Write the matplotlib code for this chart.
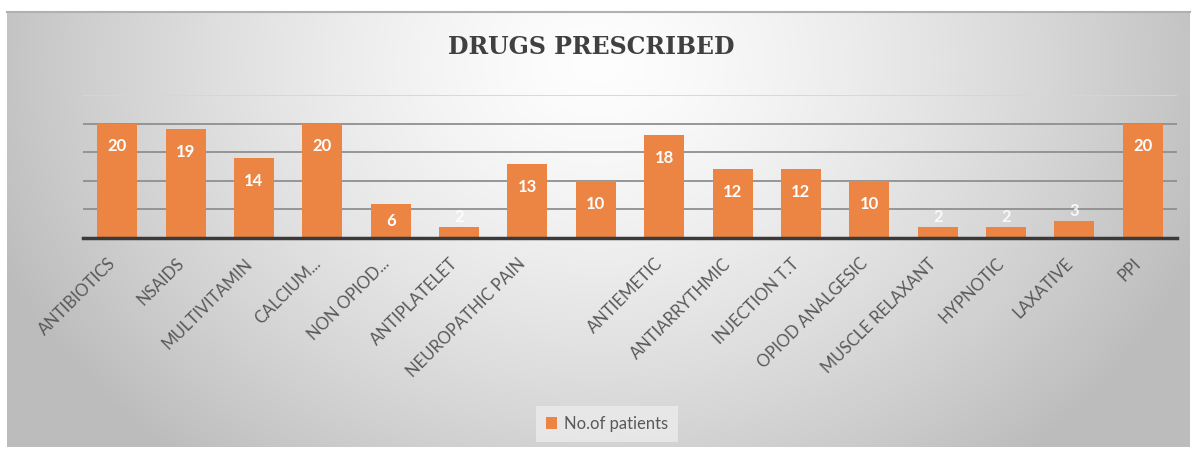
import numpy as np
import matplotlib
matplotlib.use('Agg')
import matplotlib.pyplot as plt
import matplotlib.transforms as mtransforms

# Dados do grafico
categorias = ['ANTIBIOTICS', 'NSAIDS', 'MULTIVITAMIN', 'CALCIUM...', 'NON OPIOD...',
              'ANTIPLATELET', 'NEUROPATHIC PAIN', '', 'ANTIEMETIC', 'ANTIARRYTHMIC',
              'INJECTION T.T', 'OPIOD ANALGESIC', 'MUSCLE RELAXANT', 'HYPNOTIC',
              'LAXATIVE', 'PPI']
pacientes = [20, 19, 14, 20, 6, 2, 13, 10, 18, 12, 12, 10, 2, 2, 3, 20]
serie = 'No.of patients'
titulo = 'DRUGS PRESCRIBED'

plt.rcParams['font.family'] = ['Lato', 'DejaVu Sans']

W, H = 1193, 450
fig = plt.figure(figsize=(W / 100, H / 100), dpi=100)

# Fundo com gradiente cinza (estilo Excel)
bg = fig.add_axes([7 / W, 3 / H, 1183 / W, 435 / H], zorder=-10)
yy, xx = np.mgrid[0:435, 0:1183]
d = np.sqrt(((xx - 590) / 600.0) ** 2 + ((yy - 50) / 480.0) ** 2)
g = np.clip(0.995 - 0.23 * d ** 1.4, 0.74, 1.0)
bg.imshow(np.dstack([g, g, g]), aspect='auto', interpolation='bilinear')
bg.set_xticks([])
bg.set_yticks([])
for s in ['left', 'right', 'bottom']:
    bg.spines[s].set_visible(False)
bg.spines['top'].set_color('#b0b0b0')
bg.spines['top'].set_linewidth(1.5)

# Area do grafico
ax = fig.add_axes([83 / W, 1 - 238 / H, 1094 / W, 143 / H])
ax.set_facecolor('none')
x = np.arange(len(categorias))
barras = ax.bar(x, pacientes, width=0.585, color='#EC8444', zorder=3, label=serie)
ax.set_xlim(-0.5, len(categorias) - 0.5)
ax.set_ylim(0, 25)

# Linhas de grade
for v in [5, 10, 15, 20]:
    ax.axhline(v, color='#8f8f8f', lw=1.3, zorder=1)
ax.axhline(25, color='#d6d6d6', lw=1.3, zorder=1)
for s in ['left', 'right', 'top']:
    ax.spines[s].set_visible(False)
ax.spines['bottom'].set_color('#3a3a3a')
ax.spines['bottom'].set_linewidth(2.5)
ax.spines['bottom'].set_zorder(4)
ax.set_yticks([])

ax.set_xticks(x)
ax.set_xticklabels(categorias, rotation=45, ha='right', rotation_mode='anchor',
                   fontsize=12, color='#595959')
ax.tick_params(axis='x', length=0, pad=14)
# desloca os rotulos um pouco para a esquerda
desloc = mtransforms.ScaledTranslation(-10 / 100, 2 / 100, fig.dpi_scale_trans)
for lbl in ax.get_xticklabels():
    lbl.set_transform(lbl.get_transform() + desloc)

# Rotulos de dados
for xi, v in zip(x, pacientes):
    if v > 4:
        ax.text(xi, max(v - 4, v / 2), str(v), ha='center', va='center',
                color='white', fontsize=12, fontweight='bold', zorder=5)
    else:
        ax.text(xi, v + 1.7, str(v), ha='center', va='center',
                color='white', alpha=0.85, fontsize=12, fontweight='bold', zorder=5)

# Titulo
fig.text(591 / W, 1 - 47 / H, titulo, ha='center', va='center', fontsize=17,
         fontweight='bold', family='DejaVu Serif', color='#404040')

# Legenda
leg = fig.legend(handles=[barras], labels=[serie], loc='center',
                 bbox_to_anchor=(607 / W, 1 - 424 / H), fontsize=12,
                 handlelength=0.7, handleheight=0.7, handletextpad=0.4,
                 borderpad=0.6, fancybox=False)
leg.get_frame().set_facecolor('#ececec')
leg.get_frame().set_edgecolor('none')
leg.get_frame().set_alpha(0.8)
for t in leg.get_texts():
    t.set_color('#595959')

fig.savefig('out.png', dpi=100)
